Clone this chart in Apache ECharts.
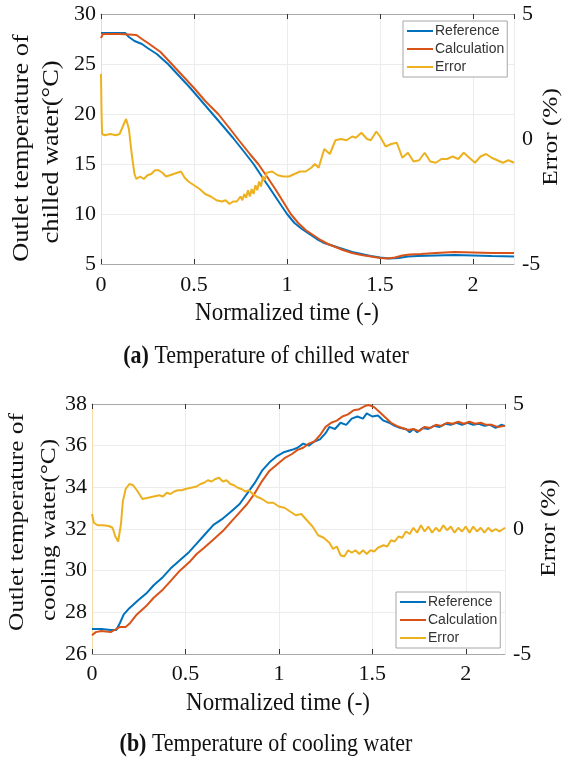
<!DOCTYPE html>
<html>
<head>
<meta charset="utf-8">
<script src="https://cdn.jsdelivr.net/npm/echarts@6/dist/echarts.min.js"></script>
<style>html,body{margin:0;padding:0;background:#fff}#c{width:563px;height:769px}</style>
</head>
<body>
<div id="c"></div>
<script>
// ---------- (a) chilled water ----------
const chilledRefTime = [0.00,0.13,0.15,0.18,0.22,0.25,0.30,0.36,0.42,0.48,0.54,0.60,0.66,0.71,0.77,0.82,0.87,0.91,0.96,1.00,1.04,1.08,1.12,1.16,1.20,1.25,1.30,1.35,1.40,1.45,1.50,1.55,1.60,1.65,1.70,1.80,1.90,2.00,2.10,2.22];
const chilledRef     = [28.1,28.1,27.7,27.3,27.0,26.6,26.0,25.0,23.8,22.6,21.3,20.0,18.7,17.6,16.2,15.0,13.6,12.5,11.1,10.0,9.1,8.5,8.0,7.5,7.1,6.8,6.5,6.2,6.0,5.8,5.65,5.55,5.6,5.75,5.8,5.85,5.9,5.85,5.8,5.75];
const chilledCalcTime = [0.00,0.01,0.05,0.10,0.15,0.19,0.22,0.26,0.32,0.38,0.44,0.50,0.56,0.63,0.69,0.74,0.80,0.845,0.89,0.94,0.98,1.02,1.06,1.10,1.14,1.18,1.22,1.26,1.30,1.35,1.40,1.45,1.50,1.54,1.58,1.62,1.66,1.72,1.80,1.90,2.00,2.10,2.22];
const chilledCalc     = [27.6,28.0,28.0,28.0,27.95,27.9,27.5,27.0,26.2,25.0,23.8,22.6,21.3,20.0,18.6,17.4,16.0,15.0,13.8,12.4,11.2,10.0,9.1,8.4,7.9,7.4,7.0,6.7,6.4,6.1,5.9,5.75,5.6,5.55,5.65,5.85,5.95,6.0,6.1,6.2,6.15,6.1,6.1];
const chilledErrTime = [0.000,0.003,0.006,0.02,0.05,0.08,0.10,0.12,0.135,0.15,0.165,0.18,0.19,0.21,0.23,0.25,0.27,0.29,0.31,0.33,0.35,0.37,0.39,0.41,0.43,0.45,0.47,0.50,0.53,0.56,0.59,0.62,0.65,0.67,0.69,0.71,0.73,0.75,0.76,0.77,0.78,0.79,0.80,0.81,0.82,0.83,0.84,0.85,0.86,0.87,0.88,0.89,0.90,0.92,0.95,0.98,1.01,1.04,1.07,1.10,1.13,1.15,1.17,1.20,1.23,1.26,1.29,1.32,1.35,1.37,1.40,1.43,1.45,1.48,1.50,1.53,1.56,1.59,1.62,1.65,1.68,1.71,1.74,1.77,1.80,1.83,1.86,1.89,1.92,1.95,1.98,2.01,2.04,2.07,2.10,2.13,2.16,2.19,2.22];
const chilledErr     = [2.6,1.0,0.2,0.15,0.2,0.15,0.2,0.55,0.8,0.4,-0.6,-1.4,-1.6,-1.5,-1.6,-1.45,-1.4,-1.25,-1.25,-1.35,-1.5,-1.45,-1.4,-1.35,-1.3,-1.55,-1.7,-1.85,-2.0,-2.2,-2.3,-2.45,-2.5,-2.45,-2.6,-2.5,-2.5,-2.3,-2.45,-2.2,-2.35,-2.05,-2.3,-2.0,-2.2,-1.85,-2.05,-1.7,-1.9,-1.5,-1.65,-1.35,-1.4,-1.3,-1.45,-1.5,-1.5,-1.4,-1.3,-1.3,-1.15,-1.0,-1.15,-0.4,-0.6,-0.05,0.0,-0.05,0.1,0.05,0.25,0.0,-0.05,0.3,0.1,-0.3,-0.2,-0.15,-0.75,-0.55,-0.9,-0.85,-0.55,-0.9,-0.95,-0.8,-0.8,-0.7,-0.8,-0.55,-0.75,-0.95,-0.7,-0.6,-0.75,-0.85,-0.95,-0.85,-0.95];

// ---------- (b) cooling water ----------
const coolingRefTime = [0.00,0.05,0.10,0.13,0.15,0.17,0.20,0.25,0.29,0.33,0.38,0.42,0.47,0.52,0.56,0.60,0.65,0.70,0.74,0.79,0.83,0.87,0.91,0.95,0.99,1.03,1.07,1.10,1.13,1.16,1.19,1.22,1.25,1.27,1.30,1.33,1.36,1.39,1.42,1.45,1.47,1.50,1.53,1.56,1.59,1.62,1.65,1.68,1.70,1.72,1.74,1.77,1.80,1.83,1.86,1.89,1.92,1.95,1.98,2.01,2.04,2.07,2.10,2.13,2.16,2.19,2.21];
const coolingRef     = [27.2,27.2,27.15,27.15,27.5,27.9,28.2,28.6,28.9,29.3,29.7,30.1,30.5,30.9,31.3,31.7,32.2,32.5,32.8,33.2,33.7,34.2,34.8,35.2,35.5,35.7,35.8,35.9,36.1,36.0,36.2,36.3,36.6,36.9,36.8,37.1,37.0,37.3,37.4,37.3,37.55,37.4,37.45,37.2,37.1,36.95,36.85,36.8,36.65,36.8,36.65,36.85,36.8,36.95,36.9,37.05,37.0,37.1,37.0,37.1,37.0,37.05,36.95,37.0,36.85,37.0,36.95];
const coolingCalcTime = [0.00,0.02,0.05,0.10,0.13,0.15,0.18,0.20,0.24,0.29,0.33,0.38,0.42,0.47,0.52,0.56,0.60,0.65,0.70,0.75,0.79,0.83,0.87,0.91,0.95,0.99,1.03,1.07,1.10,1.13,1.16,1.19,1.22,1.25,1.28,1.31,1.34,1.37,1.40,1.43,1.46,1.48,1.51,1.54,1.57,1.60,1.63,1.66,1.69,1.72,1.75,1.78,1.81,1.84,1.87,1.90,1.93,1.96,1.99,2.02,2.05,2.08,2.11,2.14,2.17,2.21];
const coolingCalc     = [26.9,27.05,27.1,27.05,27.2,27.3,27.3,27.45,27.9,28.3,28.7,29.1,29.5,30.0,30.4,30.8,31.1,31.5,31.9,32.4,32.8,33.2,33.7,34.3,34.8,35.1,35.4,35.6,35.8,35.9,36.1,36.2,36.5,36.9,37.1,37.2,37.4,37.5,37.7,37.75,37.9,37.95,37.85,37.6,37.35,37.1,36.95,36.85,36.75,36.8,36.7,36.9,36.85,37.0,36.95,37.1,37.05,37.15,37.05,37.15,37.05,37.1,37.0,37.0,36.9,36.95];
const coolingErrTime = [0.00,0.01,0.03,0.06,0.09,0.11,0.125,0.14,0.155,0.165,0.18,0.20,0.22,0.24,0.27,0.30,0.33,0.36,0.38,0.40,0.42,0.44,0.46,0.48,0.50,0.53,0.56,0.58,0.60,0.62,0.64,0.66,0.68,0.70,0.72,0.74,0.76,0.78,0.80,0.82,0.84,0.86,0.88,0.91,0.94,0.97,1.00,1.03,1.06,1.09,1.12,1.15,1.18,1.21,1.24,1.27,1.29,1.31,1.33,1.35,1.37,1.39,1.41,1.43,1.45,1.47,1.49,1.51,1.53,1.56,1.58,1.60,1.62,1.64,1.66,1.68,1.70,1.72,1.74,1.76,1.78,1.80,1.82,1.84,1.86,1.88,1.90,1.92,1.94,1.96,1.98,2.00,2.02,2.04,2.06,2.08,2.10,2.12,2.14,2.16,2.18,2.21];
const coolingErr     = [0.6,0.25,0.15,0.15,0.12,0.05,-0.3,-0.5,0.2,1.1,1.6,1.8,1.75,1.55,1.2,1.25,1.3,1.35,1.3,1.45,1.4,1.5,1.55,1.55,1.6,1.65,1.7,1.8,1.85,1.95,1.9,2.0,2.05,1.9,1.95,1.8,1.75,1.65,1.6,1.5,1.55,1.4,1.3,1.2,1.05,1.05,0.9,0.85,0.7,0.55,0.6,0.35,0.1,-0.25,-0.35,-0.55,-0.8,-0.7,-1.05,-1.1,-0.85,-0.95,-0.85,-1.0,-0.85,-1.0,-0.85,-0.9,-0.75,-0.65,-0.7,-0.45,-0.5,-0.3,-0.35,-0.1,-0.2,0.05,-0.15,0.15,-0.1,0.1,-0.15,0.05,-0.1,0.15,-0.05,0.1,-0.15,0.05,-0.1,0.1,-0.15,0.1,-0.1,0.05,-0.15,0.05,-0.1,0.0,-0.1,0.05];

// ---------- labels ----------
const seriesNames = ['Reference','Calculation','Error'];
const seriesColors = ['#0072BD','#D95319','#EDB120'];
const xTickLabels = {0:'0',0.5:'0.5',1:'1',1.5:'1.5',2:'2'};
const xName = 'Normalized time (-)';
const rightName = 'Error (%)';
const leftNameA = ['Outlet temperature of','chilled water(\u00B0C)'];
const leftNameB = ['Outlet temperature of','cooling water(\u00B0C)'];
const captionA = ['(a)',' Temperature of chilled water'];
const captionB = ['(b)',' Temperature of cooling water'];

const SERIF = "'Liberation Serif','Times New Roman',serif";
const zip = (xs, ys) => xs.map((x, i) => [x, ys[i]]);

function xAxes(grid, max, margin) {
  return [{
    gridIndex: grid, type: 'value', min: 0, max: max, interval: 0.5,
    axisLine: { onZero: false, lineStyle: { color: '#a8a8a8', width: 1 } },
    axisTick: { inside: true, length: 5, lineStyle: { color: '#333' } },
    axisLabel: { showMaxLabel: false, color: '#111', fontFamily: SERIF, fontSize: 22, margin: margin,
                 formatter: v => (xTickLabels[v] !== undefined ? xTickLabels[v] : '') },
    splitLine: { show: true, lineStyle: { color: '#ececec' } }
  }, {
    gridIndex: grid, type: 'value', position: 'top', min: 0, max: max, interval: 0.5,
    axisLine: { onZero: false, lineStyle: { color: '#a8a8a8', width: 1 } },
    axisTick: { inside: true, length: 5, lineStyle: { color: '#333' } },
    axisLabel: { show: false }, splitLine: { show: false }
  }];
}
function yAxes(grid, min, max, interval) {
  return [{
    gridIndex: grid, type: 'value', min: min, max: max, interval: interval,
    axisLine: { show: true, lineStyle: { color: '#a8a8a8' } },
    axisTick: { show: false },
    axisLabel: { color: '#111', fontFamily: SERIF, fontSize: 22, margin: 5 },
    splitLine: { show: true, lineStyle: { color: '#ececec' } }
  }, {
    gridIndex: grid, type: 'value', position: 'right', min: -5, max: 5, interval: 5,
    axisLine: { show: true, lineStyle: { color: '#f7dca5' } },
    axisTick: { show: false },
    axisLabel: { color: '#111', fontFamily: SERIF, fontSize: 22, margin: 8 },
    splitLine: { show: false }
  }];
}
function lineSeries(name, color, xi, yi, data) {
  return { name, type: 'line', xAxisIndex: xi, yAxisIndex: yi, data, symbol: 'none',
           showSymbol: false, lineStyle: { color, width: 2 }, itemStyle: { color }, animation: false, z: 3 };
}
function legend(left, top) {
  return { left, top, orient: 'vertical', data: seriesNames, backgroundColor: '#fff',
           icon: 'rect', itemWidth: 26, itemHeight: 2, itemGap: 2,
           borderColor: '#a6a6a6', borderWidth: 1, borderRadius: 0, padding: [2, 3, 2, 4],
           selectedMode: false,
           textStyle: { fontFamily: "'Liberation Sans',Arial,sans-serif", fontSize: 14, color: '#333',
                        lineHeight: 16, padding: [0, 0, 0, -3] } };
}
function vtext(x, y, text, size) {
  return { type: 'text', x, y, rotation: Math.PI / 2, scaleX: 1.15,
           style: { text, fontFamily: SERIF, fontSize: size, fill: '#111', align: 'center', verticalAlign: 'middle' } };
}
function htext(x, y, text, size) {
  return { type: 'text', x, y, scaleY: 1.12,
           style: { text, fontFamily: SERIF, fontSize: size, fill: '#111', align: 'center', verticalAlign: 'middle' } };
}
function caption(x, y, parts) {
  return { type: 'text', x, y, scaleY: 1.1,
           style: { text: '{b|' + parts[0] + '}{n|' + parts[1] + '}', align: 'center', verticalAlign: 'middle',
                    rich: { b: { fontFamily: SERIF, fontSize: 22, fontWeight: 'bold', fill: '#111' },
                            n: { fontFamily: SERIF, fontSize: 22, fill: '#111' } } } };
}

const chart = echarts.init(document.getElementById('c'), null, { renderer: 'canvas' });
chart.setOption({
  backgroundColor: '#fff',
  animation: false,
  grid: [
    { left: 101, top: 14, width: 413, height: 250 },
    { left: 92, top: 404, width: 413, height: 250 }
  ],
  xAxis: [...xAxes(0, 2.22, 10), ...xAxes(1, 2.21, 9)],
  yAxis: [...yAxes(0, 5, 30, 5), ...yAxes(1, 26, 38, 2)],
  legend: [legend(403, 21), legend(396, 592)],
  series: [
    lineSeries(seriesNames[0], seriesColors[0], 0, 0, zip(chilledRefTime, chilledRef)),
    lineSeries(seriesNames[1], seriesColors[1], 0, 0, zip(chilledCalcTime, chilledCalc)),
    lineSeries(seriesNames[2], seriesColors[2], 0, 1, zip(chilledErrTime, chilledErr)),
    lineSeries(seriesNames[0], seriesColors[0], 2, 2, zip(coolingRefTime, coolingRef)),
    lineSeries(seriesNames[1], seriesColors[1], 2, 2, zip(coolingCalcTime, coolingCalc)),
    lineSeries(seriesNames[2], seriesColors[2], 2, 3, zip(coolingErrTime, coolingErr))
  ],
  graphic: [
    vtext(22, 148, leftNameA[0], 23), vtext(52, 152, leftNameA[1], 23),
    vtext(551, 137, rightName, 22),
    vtext(17, 522, leftNameB[0], 22), vtext(49, 530, leftNameB[1], 22),
    vtext(549, 528, rightName, 22),
    htext(287, 313, xName, 23), htext(278, 703, xName, 23),
    caption(266, 357, captionA), caption(266, 745, captionB)
  ]
});
</script>
</body>
</html>
